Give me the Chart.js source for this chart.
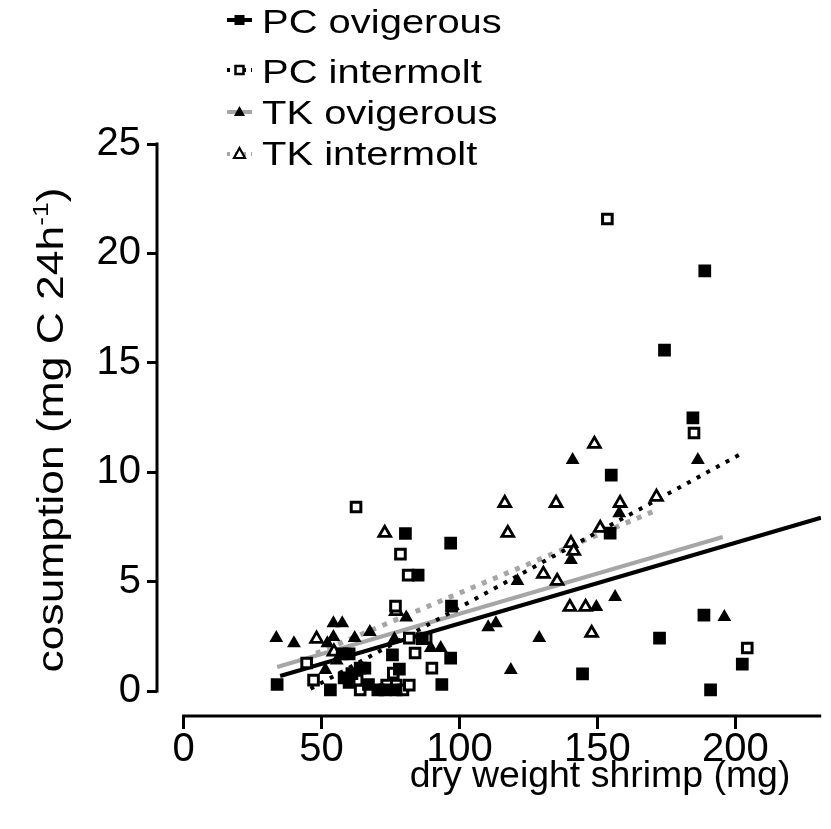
<!DOCTYPE html>
<html><head><meta charset="utf-8">
<script src="https://cdn.jsdelivr.net/npm/chart.js@4/dist/chart.umd.min.js"></script>
<style>html,body{margin:0;padding:0;background:#fff;overflow:hidden}</style>
</head><body>
<canvas id="c" width="831" height="829"></canvas>
<script>
// ---- data ----
const seriesNames = ['PC ovigerous', 'PC intermolt', 'TK ovigerous', 'TK intermolt'];

const pcOviX = [33.9, 53.2, 57.5, 60.0, 60.0, 58.2, 61.0, 64.0, 65.7, 67.0, 70.4, 73.0, 75.7, 77.0, 78.2, 80.4, 85.0, 86.5, 93.6, 96.8, 97.1, 96.8, 144.6, 155.0, 154.6, 172.5, 174.3, 184.6, 188.9, 188.6, 191.0, 202.5];
const pcOviY = [0.3, 0.05, 1.7, 1.7, 0.4, 0.6, 0.8, 1.05, 1.05, 0.3, 0.05, 0.05, 1.65, 0.05, 1.0, 7.2, 5.3, 2.4, 0.3, 6.76, 3.88, 1.5, 0.78, 9.87, 7.22, 2.42, 15.58, 12.48, 19.2, 3.47, 0.05, 1.23];

const pcIntX = [44.6, 47.1, 62.5, 62.9, 64.0, 73.6, 76.0, 76.8, 77.1, 78.6, 79.5, 81.4, 81.8, 81.8, 83.9, 87.9, 90.0, 153.6, 185.0, 204.3];
const pcIntY = [1.28, 0.5, 8.41, 0.5, 0.05, 0.27, 0.82, 3.88, 0.27, 6.26, 0.05, 5.3, 2.42, 0.27, 1.74, 2.42, 1.05, 21.57, 11.79, 1.97];

const tkOviX = [33.6, 40.0, 51.4, 52.1, 54.3, 57.5, 54.3, 55.5, 62.0, 67.5, 76.4, 80.7, 89.6, 93.2, 110.4, 113.2, 118.6, 121.0, 128.9, 140.4, 141.0, 149.6, 156.4, 157.9, 186.4, 196.0];
const tkOviY = [2.42, 2.19, 0.96, 2.19, 3.1, 3.1, 2.47, 1.4, 2.42, 2.7, 2.38, 3.36, 1.97, 1.97, 2.92, 3.1, 0.96, 5.03, 2.42, 5.99, 10.56, 3.84, 4.3, 8.13, 10.56, 3.38];

const tkIntX = [48.2, 54.5, 72.9, 77.1, 116.4, 117.5, 130.4, 135.0, 135.4, 140.0, 140.4, 141.4, 145.7, 147.9, 148.9, 151.0, 158.2, 171.4];
const tkIntY = [2.38, 1.8, 7.22, 3.65, 8.59, 7.22, 5.35, 8.59, 5.03, 3.84, 6.76, 6.4, 3.84, 2.65, 11.29, 7.45, 8.59, 8.87];

// regression line end points
const pcOviLineX = [35, 231];   const pcOviLineY = [0.69, 7.92];
const pcIntLineX = [46, 203.2]; const pcIntLineY = [0.1, 10.92];
const tkOviLineX = [33.9, 195.4]; const tkOviLineY = [1.1, 7.04];
const tkIntLineX = [48, 170.7]; const tkIntLineY = [1.72, 8.23];

const xTicks = [0, 50, 100, 150, 200];
const yTicks = [0, 5, 10, 15, 20, 25];
const xTitle = 'dry weight shrimp (mg)';
const yTitleMain = 'cosumption (mg C 24h';
const yTitleSup = '-1';
const yTitleEnd = ')';

// ---- build ----
const pts = (xs, ys) => xs.map((x, i) => ({x: x, y: ys[i]}));
const FONT = '"Liberation Sans", Arial, Helvetica, sans-serif';
const GRAY = '#a6a6a6';

const styles = [
  {pointStyle: 'rect', radius: 9, fill: '#000', bw: 0, line: '#000', lw: 4, dash: []},
  {pointStyle: 'rect', radius: 6.8, fill: '#fff', bw: 3, line: '#000', lw: 4, dash: [4, 7]},
  {pointStyle: 'triangle', radius: 8, fill: '#000', bw: 0, line: GRAY, lw: 4, dash: []},
  {pointStyle: 'triangle', radius: 6.8, fill: '#fff', bw: 2.8, line: GRAY, lw: 5, dash: [5, 7]}
];
const pointSets = [pts(pcOviX, pcOviY), pts(pcIntX, pcIntY), pts(tkOviX, tkOviY), pts(tkIntX, tkIntY)];
const lineSets = [pts(pcOviLineX, pcOviLineY), pts(pcIntLineX, pcIntLineY), pts(tkOviLineX, tkOviLineY), pts(tkIntLineX, tkIntLineY)];

const datasets = [];
pointSets.forEach((d, i) => {
  const s = styles[i];
  datasets.push({
    label: seriesNames[i], data: d, showLine: false,
    pointStyle: s.pointStyle, pointRadius: s.radius, pointHoverRadius: s.radius,
    backgroundColor: s.fill, borderColor: '#000', pointBorderWidth: s.bw, borderWidth: s.bw
  });
});
lineSets.forEach((d, i) => {
  const s = styles[i];
  datasets.push({
    label: seriesNames[i] + ' fit', data: d, showLine: true, pointRadius: 0,
    borderColor: s.line, borderWidth: s.lw, borderDash: s.dash, borderCapStyle: 'butt', fill: false
  });
});

const axisPlugin = {
  id: 'prismAxes',
  afterDraw(chart) {
    const ctx = chart.ctx, xs = chart.scales.x, ys = chart.scales.y, a = chart.chartArea;
    ctx.save();
    ctx.strokeStyle = '#000'; ctx.lineWidth = 3; ctx.lineCap = 'butt';
    // y axis line 0..25
    ctx.beginPath();
    ctx.moveTo(a.left, ys.getPixelForValue(yTicks[0]) + 1.5);
    ctx.lineTo(a.left, ys.getPixelForValue(yTicks[yTicks.length - 1]) - 1.5);
    ctx.stroke();
    // x axis line from 0 to the right edge
    ctx.beginPath();
    ctx.moveTo(xs.getPixelForValue(xTicks[0]) - 1.5, a.bottom);
    ctx.lineTo(a.right, a.bottom);
    ctx.stroke();

    // x title
    ctx.fillStyle = '#000';
    ctx.font = '36px ' + FONT;
    ctx.textAlign = 'center'; ctx.textBaseline = 'alphabetic';
    ctx.save();
    ctx.translate(600, 787); ctx.scale(1.04, 1);
    ctx.fillText(xTitle, 0, 0);
    ctx.restore();

    // y title (rotated) with superscript
    ctx.save();
    ctx.translate(63, 430);
    ctx.rotate(-Math.PI / 2);
    ctx.scale(1.2, 1);
    const fMain = '37px ' + FONT, fSup = '22px ' + FONT;
    ctx.font = fMain; const w1 = ctx.measureText(yTitleMain).width; const w3 = ctx.measureText(yTitleEnd).width;
    ctx.font = fSup; const w2 = ctx.measureText(yTitleSup).width;
    const total = w1 + w2 + w3;
    let x0 = -total / 2;
    ctx.textAlign = 'left';
    ctx.font = fMain; ctx.fillText(yTitleMain, x0, 0);
    ctx.font = fSup; ctx.fillText(yTitleSup, x0 + w1, -15);
    ctx.font = fMain; ctx.fillText(yTitleEnd, x0 + w1 + w2, 0);
    ctx.restore();

    // legend
    const rows = [
      {cy: 20, base: 33}, {cy: 70, base: 83}, {cy: 112, base: 124}, {cy: 154, base: 165}
    ];
    rows.forEach((r, i) => {
      const s = styles[i];
      ctx.save();
      ctx.strokeStyle = s.line; ctx.lineWidth = 4; ctx.setLineDash(s.dash.length ? [3, 5] : []);
      ctx.beginPath(); ctx.moveTo(227, r.cy); ctx.lineTo(252, r.cy); ctx.stroke();
      ctx.setLineDash([]);
      const cx = 239.5;
      ctx.fillStyle = s.fill; ctx.strokeStyle = '#000';
      if (s.pointStyle === 'rect') {
        if (s.bw) { ctx.lineWidth = 2.5; ctx.fillRect(cx - 4, r.cy - 4, 8, 8); ctx.strokeRect(cx - 4, r.cy - 4, 8, 8); }
        else { ctx.fillRect(cx - 5, r.cy - 5, 10, 10); }
      } else {
        ctx.beginPath(); ctx.moveTo(cx, r.cy - 6); ctx.lineTo(cx + 5.5, r.cy + 4); ctx.lineTo(cx - 5.5, r.cy + 4); ctx.closePath();
        ctx.fill();
        if (s.bw) { ctx.lineWidth = 2.2; ctx.stroke(); }
      }
      ctx.restore();
      ctx.save();
      ctx.fillStyle = '#000'; ctx.font = '34px ' + FONT; ctx.textAlign = 'left'; ctx.textBaseline = 'alphabetic';
      ctx.translate(262, r.base); ctx.scale(1.175, 1);
      ctx.fillText(seriesNames[i], 0, 0);
      ctx.restore();
    });
    ctx.restore();
  }
};

new Chart(document.getElementById('c'), {
  type: 'scatter',
  data: {datasets: datasets},
  options: {
    responsive: false, animation: false, devicePixelRatio: 1,
    layout: {padding: {top: 144, right: 0, left: 0, bottom: 0}},
    plugins: {legend: {display: false}, tooltip: {enabled: false}},
    scales: {
      x: {
        type: 'linear', min: -9.64, max: 231.1,
        afterBuildTicks: s => { s.ticks = xTicks.map(v => ({value: v})); },
        afterFit: s => { s.height = 113; },
        border: {display: false},
        grid: {drawOnChartArea: false, drawTicks: true, tickLength: 13, color: '#000', lineWidth: 3},
        ticks: {color: '#000', font: {size: 40, family: FONT}, padding: -3, maxRotation: 0, autoSkip: false},
        title: {display: false}
      },
      y: {
        type: 'linear', min: -1.14, max: 25,
        afterBuildTicks: s => { s.ticks = yTicks.map(v => ({value: v})); },
        afterFit: s => { s.width = 157; },
        border: {display: false},
        grid: {drawOnChartArea: false, drawTicks: true, tickLength: 10, color: '#000', lineWidth: 3},
        ticks: {color: '#000', font: {size: 40, family: FONT}, padding: 6, autoSkip: false},
        title: {display: false}
      }
    }
  },
  plugins: [axisPlugin]
});
</script>
</body></html>
